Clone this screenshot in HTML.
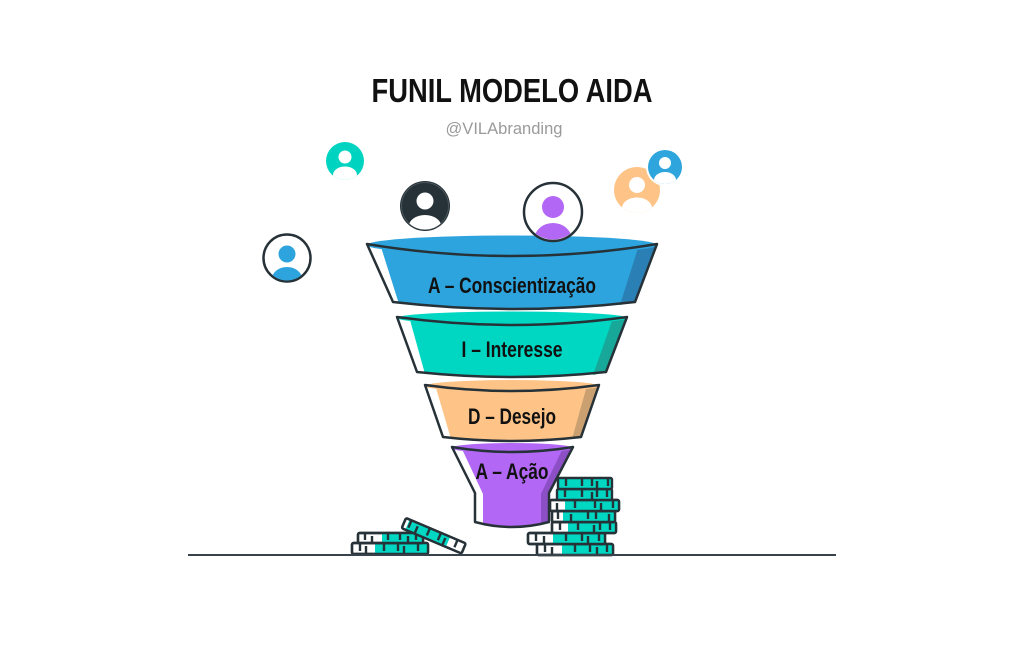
<!DOCTYPE html>
<html>
<head>
<meta charset="utf-8">
<style>
  html,body{margin:0;padding:0;background:#fff;}
  body{width:1024px;height:664px;overflow:hidden;}
  svg{display:block;}
  .lbl{font-family:"Liberation Sans",sans-serif;font-weight:bold;fill:#111;}
</style>
</head>
<body>
<svg width="1024" height="664" viewBox="0 0 1024 664" xmlns="http://www.w3.org/2000/svg">
  <defs>
    <clipPath id="c1"><circle cx="345" cy="161" r="19"/></clipPath>
    <clipPath id="c2"><circle cx="425" cy="206" r="23.5"/></clipPath>
    <clipPath id="c3"><circle cx="287" cy="258" r="22.5"/></clipPath>
    <clipPath id="c4"><circle cx="553" cy="212" r="27.5"/></clipPath>
    <clipPath id="c5"><circle cx="637" cy="190" r="23"/></clipPath>
    <clipPath id="c6"><circle cx="665" cy="167" r="17"/></clipPath>
  </defs>

  <!-- Title -->
  <text class="lbl" x="512" y="102" font-size="33" text-anchor="middle" textLength="281" lengthAdjust="spacingAndGlyphs" fill="#111">FUNIL MODELO AIDA</text>
  <text x="504" y="134" font-size="16.5" text-anchor="middle" font-family="'Liberation Sans',sans-serif" fill="#9a9a9a" textLength="117" lengthAdjust="spacingAndGlyphs">@VILAbranding</text>

  <!-- Avatars -->
  <circle cx="345" cy="161" r="19" fill="#00d4c1"/>
  <g clip-path="url(#c1)" fill="#fff">
    <circle cx="345" cy="157" r="6.5"/>
    <ellipse cx="345" cy="175" rx="12" ry="8.5"/>
  </g>
  <circle cx="425" cy="206" r="25" fill="#263238"/>
  <circle cx="425" cy="206" r="23.5" fill="none" stroke="#4a555b" stroke-width="1"/>
  <g clip-path="url(#c2)" fill="#fff">
    <circle cx="425" cy="201" r="8.5"/>
    <ellipse cx="425" cy="226" rx="16" ry="11"/>
  </g>
  <circle cx="287" cy="258" r="23.5" fill="#fff" stroke="#263238" stroke-width="2.5"/>
  <g clip-path="url(#c3)" fill="#2da4dd">
    <circle cx="287" cy="254" r="8.5"/>
    <ellipse cx="287" cy="279" rx="15" ry="12"/>
  </g>
  <circle cx="637" cy="190" r="23" fill="#fec487"/>
  <g clip-path="url(#c5)" fill="#fff">
    <circle cx="637" cy="185" r="8"/>
    <ellipse cx="637" cy="208" rx="15" ry="10.5"/>
  </g>
  <circle cx="665" cy="167" r="19" fill="#fff"/>
  <circle cx="665" cy="167" r="17" fill="#2ea5dd"/>
  <g clip-path="url(#c6)" fill="#fff">
    <circle cx="665" cy="163" r="6"/>
    <ellipse cx="665" cy="180" rx="11" ry="8"/>
  </g>

  <!-- Coins right stack -->
  <g stroke="#263238" stroke-width="2.4" fill="none">
    <rect x="537" y="544" width="76" height="11" rx="1.5" fill="#fff"/>
    <rect x="562" y="545" width="50" height="9" fill="#00d7c3" stroke="none"/>
    <rect x="537" y="544" width="76" height="11" rx="1.5"/>
    <path d="M545 544v8M552 547v8M575 544v8M590 544v8M597 547v8M607 544v8"/>
    <rect x="528" y="533" width="77" height="11" rx="1.5" fill="#fff"/>
    <rect x="553" y="534" width="51" height="9" fill="#00d7c3" stroke="none"/>
    <rect x="528" y="533" width="77" height="11" rx="1.5"/>
    <path d="M536 533v8M544 536v8M566 533v8M582 533v8M588 536v8M599 533v8"/>
    <rect x="552" y="522" width="64" height="11" rx="1.5" fill="#fff"/>
    <rect x="568" y="523" width="47" height="9" fill="#00d7c3" stroke="none"/>
    <rect x="552" y="522" width="64" height="11" rx="1.5"/>
    <path d="M560 522v8M578 522v8M594 525v8M600 522v8M610 522v8"/>
    <rect x="552" y="511" width="63" height="11" rx="1.5" fill="#fff"/>
    <rect x="563" y="512" width="51" height="9" fill="#00d7c3" stroke="none"/>
    <rect x="552" y="511" width="63" height="11" rx="1.5"/>
    <path d="M558 511v8M571 514v8M588 511v8M596 511v8M609 514v8"/>
    <rect x="550" y="500" width="69" height="11" rx="1.5" fill="#fff"/>
    <rect x="565" y="501" width="53" height="9" fill="#00d7c3" stroke="none"/>
    <rect x="550" y="500" width="69" height="11" rx="1.5"/>
    <path d="M557 503v8M575 500v8M595 500v8M601 503v8M613 500v8"/>
    <rect x="557" y="489" width="55" height="11" rx="1.5" fill="#00d7c3"/>
    <path d="M565 489v8M582 489v8M592 492v8M597 489v8M607 489v8"/>
    <rect x="558" y="478" width="54" height="11" rx="1.5" fill="#00d7c3"/>
    <path d="M566 478v8M582 478v8M592 478v8M597 481v8M608 478v8"/>
  </g>

  <!-- Coins left pile -->
  <g stroke="#263238" stroke-width="2.4" fill="none">
    <rect x="352" y="543" width="76" height="11" rx="1.5" fill="#fff"/>
    <rect x="375" y="544" width="52" height="9" fill="#00d7c3" stroke="none"/>
    <rect x="352" y="543" width="76" height="11" rx="1.5"/>
    <path d="M360 543v8M366 546v8M384 543v8M398 543v8M404 546v8M418 543v8"/>
    <rect x="358" y="533" width="65" height="10" rx="1.5" fill="#fff"/>
    <rect x="382" y="534" width="40" height="8" fill="#00d7c3" stroke="none"/>
    <rect x="358" y="533" width="65" height="10" rx="1.5"/>
    <path d="M365 533v7M372 536v7M388 533v7M400 533v7M408 536v7M416 533v7"/>
    <g transform="translate(406 518) rotate(23)">
      <rect x="0" y="0" width="65" height="11" rx="1.5" fill="#fff"/>
      <rect x="4" y="1" width="44" height="9" fill="#00d7c3" stroke="none"/>
      <rect x="0" y="0" width="65" height="11" rx="1.5"/>
      <path d="M6 0v8M14 3v8M26 0v8M38 0v8M44 3v8M56 0v8"/>
    </g>
  </g>

  <!-- Funnel: Blue -->
  <path d="M367,244 L657,244 L635,302 Q514,316 393,302 Z" fill="#2da4dd"/>
  <polygon points="367,244 381,247 399,304 393,302" fill="#fff"/>
  <polygon points="657,244 638,248 620,305 635,302" fill="#2a80b4"/>
  <ellipse cx="512" cy="245" rx="145" ry="9.5" fill="#2da4dd"/>
  <path d="M367,244 Q512,268 657,244 L635,302 Q514,316 393,302 Z" fill="none" stroke="#263238" stroke-width="2.5" stroke-linejoin="round"/>
  <text class="lbl" x="512" y="293" font-size="22" text-anchor="middle" textLength="168" lengthAdjust="spacingAndGlyphs">A – Conscientização</text>

  <!-- Funnel: Teal -->
  <path d="M397,317 L627,317 L606,372 Q512,382 417,372 Z" fill="#00d7c3"/>
  <polygon points="397,317 410,320 425,374 417,372" fill="#fff"/>
  <polygon points="627,317 612,321 593,375 606,372" fill="#17a899"/>
  <ellipse cx="512" cy="318" rx="115" ry="6.5" fill="#00d7c3"/>
  <path d="M397,317 Q512,333 627,317 L606,372 Q512,382 417,372 Z" fill="none" stroke="#263238" stroke-width="2.5" stroke-linejoin="round"/>
  <text class="lbl" x="512" y="357" font-size="22" text-anchor="middle" textLength="101" lengthAdjust="spacingAndGlyphs">I – Interesse</text>

  <!-- Funnel: Orange -->
  <path d="M425,385 L599,385 L581,437 Q512,445 443,437 Z" fill="#fec487"/>
  <polygon points="425,385 436,388 451,439 443,437" fill="#fff"/>
  <polygon points="599,385 586,389 572,439 581,437" fill="#cba071"/>
  <ellipse cx="512" cy="386" rx="87" ry="6" fill="#fec487"/>
  <path d="M425,385 Q512,397 599,385 L581,437 Q512,445 443,437 Z" fill="none" stroke="#263238" stroke-width="2.5" stroke-linejoin="round"/>
  <text class="lbl" x="512" y="424" font-size="22" text-anchor="middle" textLength="88" lengthAdjust="spacingAndGlyphs">D – Desejo</text>

  <!-- Funnel: Purple -->
  <path d="M452,447 L573,447 L549,493 L549,522 Q512,532 475,522 L475,493 Z" fill="#b267f5"/>
  <polygon points="452,447 462,449 483,494 483,524 475,522 475,493" fill="#fff"/>
  <polygon points="573,447 562,450 541,494 541,524 549,522 549,493" fill="#8c4fc6"/>
  <ellipse cx="512" cy="448" rx="61" ry="5" fill="#b267f5"/>
  <path d="M452,447 Q512,457 573,447 L549,493 L549,522 Q512,532 475,522 L475,493 Z" fill="none" stroke="#263238" stroke-width="2.5" stroke-linejoin="round"/>
  <text class="lbl" x="512" y="479" font-size="22" text-anchor="middle" textLength="73" lengthAdjust="spacingAndGlyphs">A – Ação</text>

  <!-- Purple avatar -->
  <circle cx="553" cy="212" r="29" fill="#fff" stroke="#263238" stroke-width="2.5"/>
  <g clip-path="url(#c4)" fill="#b267f5">
    <circle cx="553" cy="207" r="11"/>
    <ellipse cx="553" cy="240" rx="19" ry="17"/>
  </g>

  <!-- Ground line -->
  <line x1="188" y1="555" x2="836" y2="555" stroke="#37424a" stroke-width="2"/>
</svg>
</body>
</html>
